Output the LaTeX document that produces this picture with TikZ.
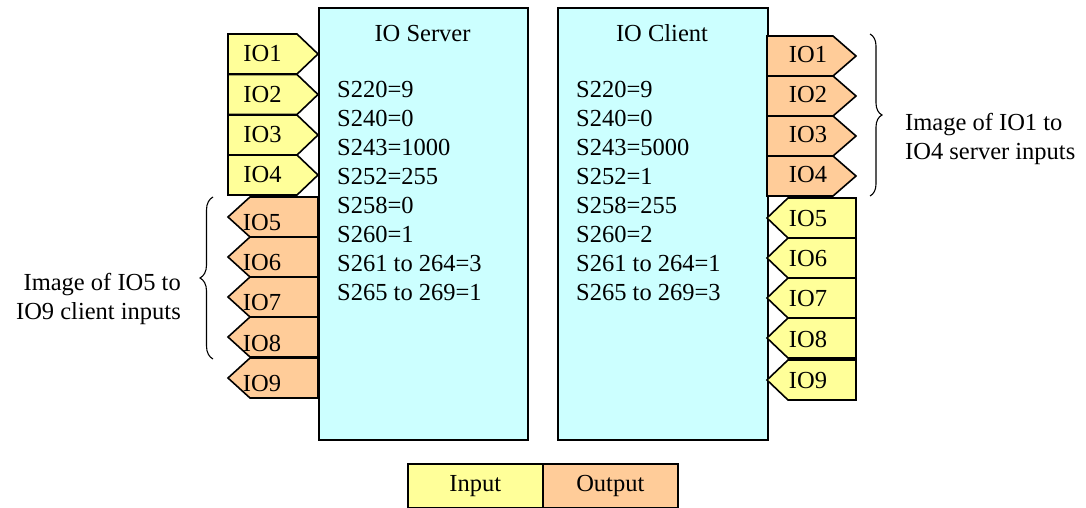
\documentclass[tikz,border=0pt]{standalone}
\usepackage{fontspec}
\setmainfont{Liberation Serif}
\usetikzlibrary{decorations.pathreplacing}
\definecolor{inyellow}{HTML}{FFFF99}
\definecolor{outorange}{HTML}{FFCC99}
\definecolor{devcyan}{HTML}{CCFFFF}
\tikzset{
  outline/.style={draw=black, line width=1.6pt, line join=miter},
  devbox/.style={outline, fill=devcyan, inner sep=0pt},
  inshape/.style={outline, fill=inyellow},
  outshape/.style={outline, fill=outorange},
  lbl/.style={font=\fontsize{24.5}{29}\selectfont, inner sep=0pt},
  bracestyle/.style={draw=black, line width=1.1pt, decorate, decoration={brace, amplitude=13pt}},
}
\begin{document}
\begin{tikzpicture}[x=1pt, y=-1pt]
\useasboundingbox (0,0) rectangle (1086,508);

% devices
\node[devbox, minimum width=209pt, minimum height=432pt, anchor=north west] (server) at (318,7) {};
\node[devbox, minimum width=210pt, minimum height=432pt, anchor=north west] (client) at (557,7) {};

\node[lbl, anchor=base] (stitle) at (422.5,42) {IO Server};
\node[lbl, anchor=base] (ctitle) at (662,42) {IO Client};

\node[lbl, align=left, anchor=north west] (sparams) at (337,81.5) {S220=9\\S240=0\\S243=1000\\S252=255\\S258=0\\S260=1\\S261 to 264=3\\S265 to 269=1};
\node[lbl, align=left, anchor=north west] (cparams) at (576,81.5) {S220=9\\S240=0\\S243=5000\\S252=1\\S258=255\\S260=2\\S261 to 264=1\\S265 to 269=3};

% server inputs IO1-IO4 (pointing right)
\foreach \i/\t in {1/34, 2/74.5, 3/115, 4/155} {
  \draw[inshape] (228,\t) -- (297,\t) -- (318,\t+20) -- (297,\t+40) -- (228,\t+40) -- cycle;
  \node[lbl] (s\i) at (262.5,\t+20) {IO\i};
}
% server outputs IO5-IO9 (pointing left)
\foreach \i/\t in {5/197, 6/237, 7/277, 8/317, 9/358} {
  \draw[outshape] (228,\t+20) -- (250,\t) -- (318,\t) -- (318,\t+40) -- (250,\t+40) -- cycle;
  \node[lbl] (s\i) at (262,\t+26) {IO\i};
}
% client outputs IO1-IO4 (pointing right)
\foreach \i/\t in {1/36, 2/76, 3/116, 4/156} {
  \draw[outshape] (767,\t) -- (833,\t) -- (856,\t+20) -- (833,\t+40) -- (767,\t+40) -- cycle;
  \node[lbl] (c\i) at (808,\t+19) {IO\i};
}
% client inputs IO5-IO9 (pointing left)
\foreach \i/\t in {5/198, 6/238, 7/278, 8/318, 9/360} {
  \draw[inshape] (767,\t+20) -- (788,\t) -- (856,\t) -- (856,\t+40) -- (788,\t+40) -- cycle;
  \node[lbl] (c\i) at (808,\t+21) {IO\i};
}

% braces
\coordinate (lbB) at (213,359);
\coordinate (lbT) at (213,197);
\draw[bracestyle] (lbB) -- (lbT);
\node[lbl, align=right, anchor=north east] (lnote) at (181,273) {Image of IO5 to\\IO9 client inputs};

\coordinate (rbT) at (870,34);
\coordinate (rbB) at (870,196);
\draw[bracestyle, decoration={amplitude=12pt}] (rbT) -- (rbB);
\node[lbl, align=left, anchor=north west] (rnote) at (905,113) {Image of IO1 to\\IO4 server inputs};

% legend
\node[inshape, lbl, minimum width=135pt, minimum height=44pt, anchor=north west] (legin) at (407,463) {Input};
\node[outshape, lbl, minimum width=135pt, minimum height=44pt, anchor=north west] (legout) at (542,463) {Output};
\end{tikzpicture}
\end{document}
